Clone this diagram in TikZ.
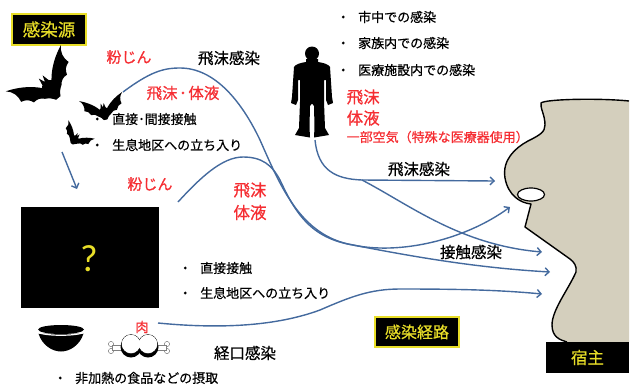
\documentclass[tikz,border=0pt]{standalone}
\usepackage{fontspec}
\setmainfont{Noto Sans CJK JP}[FakeBold=0.6]
\newfontfamily\latinq{Carlito}
\usetikzlibrary{arrows.meta}

\definecolor{routeblue}{RGB}{68,106,158}
\definecolor{alertred}{RGB}{245,45,50}
\definecolor{signyellow}{RGB}{232,222,40}
\definecolor{skin}{RGB}{212,207,189}

\newcommand\jfs[1]{\fontsize{#1}{#1}\selectfont}

% outline of the host's profile (forehead, nose, mouth, chin)
\def\profilepath{(567,342) .. controls (560,340) and (552,337) .. (552,325)
  .. controls (552,310) and (568,290) .. (576,272)
  .. controls (577,266) and (574,262) .. (570,259) -- (525,227) -- (531,204)
  .. controls (520,203) and (508,195) .. (505,178)
  .. controls (502,160) and (515,148) .. (528,141)
  .. controls (540,135) and (545,132) .. (545,125)
  .. controls (545,115) and (540,108) .. (541,103)
  .. controls (545,99) and (600,98) .. (629,101)}

\tikzset{
  route/.style={draw=routeblue, line width=1.4pt,
    -{Straight Barb[length=4pt,width=8pt]}},
  tag/.style={inner sep=0pt, font=\jfs{15.5}},
  redtag/.style={inner sep=0pt, text=alertred, font=\jfs{16.5}},
  item/.style={inner sep=0pt, anchor=west, font=\jfs{13}},
  signbox/.style={fill=black, draw=signyellow, line width=1.2pt,
    text=signyellow, inner sep=0pt},
  bat/.pic={
    \fill (0,-0.22) -- (0.07,-0.4) -- (0.11,-0.2) -- (0.17,-0.14)
      .. controls (0.4,-0.42) and (0.7,-0.6) .. (1,-0.72)
      to[bend right=30] (0.86,-0.22)
      to[bend right=30] (0.6,0.02)
      to[bend right=30] (0.3,0.14)
      to[bend right=15] (0.08,0.36)
      -- (-0.08,0.36)
      to[bend right=15] (-0.3,0.14)
      to[bend right=30] (-0.6,0.02)
      to[bend right=30] (-0.86,-0.22)
      to[bend right=30] (-1,-0.72)
      .. controls (-0.7,-0.6) and (-0.4,-0.42) .. (-0.17,-0.14)
      -- (-0.11,-0.2) -- (-0.07,-0.4) -- cycle;
  }
}

\begin{document}
\begin{tikzpicture}[x=1pt,y=-1pt]
\useasboundingbox (0,0) rectangle (634,386);

% host profile
\fill[skin] \profilepath -- (629,342) -- cycle;
\draw[line width=1.4pt, line join=round] \profilepath;
\filldraw[fill=white, draw=black, line width=1.2pt] (531,194.5) ellipse (13.5pt and 6.5pt);

% signs
\node[signbox, minimum width=74pt, minimum height=31pt, font=\jfs{17.5}] (srcbox) at (49,29.5) {感染源};
\node[signbox, minimum width=84pt, minimum height=30pt, font=\jfs{16}] (routebox) at (417,332) {感染経路};
\node[fill=black, text=signyellow, inner sep=0pt, minimum width=83pt, minimum height=31pt, font=\jfs{16.5}] (hostbox) at (587.5,357.5) {宿主};

% unknown intermediate host
\node[fill=black, minimum width=138pt, minimum height=101pt, inner sep=0pt] (unknown) at (90,257.5) {};
\node[text=signyellow, font=\latinq\jfs{38}, inner sep=0pt] (qmark) at (89,259) {?};

% bats
\pic[rotate=40, scale=36] at (50,88) {bat};
\pic[rotate=12, scale=22] at (104,112) {bat};
\pic[rotate=-35, scale=16] at (75,139) {bat};

% human silhouette
\fill (312,53.5) circle (7pt);
\fill (306,59) -- (306,62) .. controls (300,63) and (296,64) .. (294,67)
  -- (292,97) -- (291,103) -- (296,105) -- (298,100) -- (298,80)
  -- (300,80) -- (300,102) -- (299,128) -- (295,135) -- (310,137.5)
  -- (309.5,127) -- (310,106) -- (312,103.5) -- (314,106) -- (314.5,127)
  -- (314,137.5) -- (329,135) -- (325,128) -- (324,102) -- (324,80)
  -- (326,80) -- (326,100) -- (328,105) -- (333,103) -- (332,97)
  -- (330,67) .. controls (328,64) and (324,63) .. (318,62) -- (318,59) -- cycle;

% bowl
\fill (61,329.5) ellipse (23pt and 4.5pt);
\fill (38.5,333.5) .. controls (42,345) and (52,351.5) .. (61,351.5)
  .. controls (70,351.5) and (80,345) .. (83.5,333.5) -- cycle;
\draw[white, line width=1.2pt] (39,333) .. controls (50,336) and (72,336) .. (83,333);

% meat on the bone
\filldraw[fill=white, draw=gray, line width=0.5pt]
  (111,344) circle (2.6pt) (111,351) circle (2.6pt)
  (167,344) circle (2.6pt) (167,351) circle (2.6pt);
\filldraw[fill=white, draw=gray, line width=0.5pt] (112,345) rectangle (124,350);
\filldraw[fill=white, draw=gray, line width=0.5pt] (155,345) rectangle (166,350);
\fill (131,347) circle (10.5pt) (148,347) circle (10.5pt);
\filldraw[fill=white, draw=black, line width=0.4pt] (131,344) circle (9.5pt);
\filldraw[fill=white, draw=black, line width=0.4pt] (148,344) circle (9.5pt);
\fill[white] (131,344) circle (9.1pt) (148,344) circle (9.1pt);

% labels around the bats
\node[redtag, font=\jfs{15}] (dust1) at (129,57) {粉じん};
\node[tag] (dropinf1) at (229,58) {飛沫感染};
\node[redtag, font=\jfs{15.5}] (dropfluid1) at (183,93) {飛沫\hspace{1.5pt}･\hspace{1.5pt}体液};
\node[item] (batcontact) at (90.5,119) {・\hspace{8.5pt}直接･間接接触};
\node[item] (batvisit) at (90.5,145) {・\hspace{8.5pt}生息地区への立ち入り};

% labels around the intermediate host
\node[redtag, font=\jfs{15}] (dust2) at (150,184) {粉じん};
\node[redtag] (drop2) at (250,190) {飛沫};
\node[redtag] (fluid2) at (250,212.5) {体液};
\node[item] (midcontact) at (178.5,268) {・\hspace{8.5pt}直接接触};
\node[item] (midvisit) at (178.5,293) {・\hspace{8.5pt}生息地区への立ち入り};
\node[redtag, font=\jfs{13.5}] (meat) at (142,327) {肉};
\node[tag] (oral) at (245,353) {経口感染};
\node[item] (rawfood) at (53.5,378) {・\hspace{8.5pt}非加熱の食品などの摂取};

% labels around the human carrier
\node[item] (city) at (336.5,17) {・\hspace{8.5pt}市中での感染};
\node[item] (family) at (336.5,43) {・\hspace{8.5pt}家族内での感染};
\node[item] (hospital) at (336.5,70) {・\hspace{8.5pt}医療施設内での感染};
\node[redtag, anchor=west] (drop3) at (346.5,97) {飛沫};
\node[redtag, anchor=west] (fluid3) at (346.5,118) {体液};
\node[inner sep=0pt, anchor=west, text=alertred, font=\jfs{13}] (air3) at (346.5,137) {一部空気（特殊な医療器使用）};
\node[tag] (dropinf2) at (419,169) {飛沫感染};
\node[tag] (contactinf) at (471,252) {接触感染};

% route end points
\coordinate (batfoot) at (62,152);
\coordinate (towardmid) at (77,189);
\coordinate (a0) at (123,92);
\coordinate (a1) at (550,272);
\coordinate (b0) at (178,202);
\coordinate (b1) at (510,207);
\coordinate (p0) at (315,140);
\coordinate (fork) at (362,180);
\coordinate (p1) at (495,181);
\coordinate (p2) at (542,252);
\coordinate (c0) at (158,323);
\coordinate (c1) at (542,294);

% routes
\draw[route] (batfoot) -- (towardmid);
\draw[route] (a0) .. controls (150,72) and (163,68) .. (180,68)
  .. controls (215,68) and (242,102) .. (260,140)
  .. controls (280,185) and (300,236) .. (353,245)
  .. controls (420,258) and (480,268) .. (a1);
\draw[route] (b0) .. controls (200,178) and (222,157) .. (243,157)
  .. controls (262,157) and (272,165) .. (280,180)
  .. controls (295,212) and (310,238) .. (353,245)
  .. controls (400,255) and (465,240) .. (b1);
\draw[route] (p0) .. controls (318,170) and (335,179) .. (fork) -- (p1);
\draw[route] (fork) .. controls (410,205) and (460,245) .. (p2);
\draw[route] (c0) .. controls (230,330) and (282,324) .. (320,310)
  .. controls (350,297) and (370,289) .. (400,289)
  .. controls (460,289) and (500,290) .. (c1);
\end{tikzpicture}
\end{document}
